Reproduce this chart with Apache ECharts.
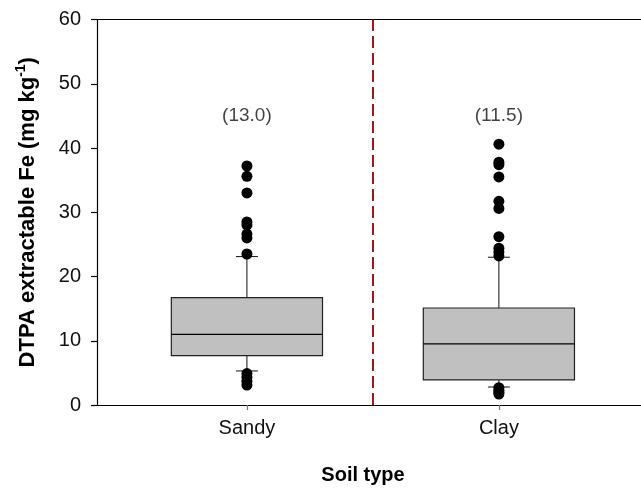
<!DOCTYPE html>
<html><head><meta charset="utf-8">
<script src="https://cdn.jsdelivr.net/npm/echarts@6/dist/echarts.min.js"></script>
<style>html,body{margin:0;padding:0;background:#fff}#c{width:641px;height:490px}</style>
</head><body><div id="c"></div>
<script>
const categories = ['Sandy', 'Clay'];
// [lower whisker, Q1, median, Q3, upper whisker]
const sandyBox = [5.3, 7.7, 11.0, 16.7, 23.1];
const clayBox = [2.8, 3.9, 9.5, 15.1, 23.0];
const sandyOutliers = [37.2, 35.6, 33.0, 28.5, 28.0, 26.6, 26.0, 23.5, 4.9, 4.3, 3.7, 3.1];
const clayOutliers = [40.6, 37.8, 37.4, 35.5, 31.7, 30.6, 26.2, 24.4, 23.8, 23.2, 2.7, 2.3, 2.0, 1.7];
const means = [13.0, 11.5];
const yTicks = [0, 10, 20, 30, 40, 50, 60];

const FONT = "'Liberation Sans', Arial, sans-serif";
const labelY = 45;
const boxes = [sandyBox, clayBox];
const boxData = boxes.map((b, i) => [i + 1].concat(b));
const outlierData = [];
sandyOutliers.forEach(v => outlierData.push([1, v]));
clayOutliers.forEach(v => outlierData.push([2, v]));

const X_MIN = 0.405, X_MAX = 2.564;

const chart = echarts.init(document.getElementById('c'), null, {renderer: 'canvas'});
chart.setOption({
  animation: false,
  backgroundColor: '#fff',
  textStyle: {fontFamily: FONT},
  grid: {left: 97, top: 19.5, bottom: 80, right: 0, containLabel: false},
  xAxis: [{
    type: 'value', min: X_MIN, max: X_MAX, position: 'bottom',
    splitLine: {show: false},
    axisLine: {show: true, lineStyle: {color: '#000', width: 1.2}},
    axisTick: {show: true, customValues: [1, 2], length: 5, lineStyle: {color: '#777', width: 1.2}},
    axisLabel: {show: true, customValues: [1, 2], margin: 13, fontSize: 20, color: '#111', fontFamily: FONT,
      formatter: v => categories[Math.round(v) - 1] || ''},
    name: 'Soil type', nameLocation: 'middle', nameGap: 60,
    nameTextStyle: {fontSize: 20, fontWeight: 'bold', color: '#000', fontFamily: FONT, padding: [0, 12, 0, 0]}
  }, {
    type: 'value', min: X_MIN, max: X_MAX, position: 'top',
    splitLine: {show: false}, axisTick: {show: false}, axisLabel: {show: false},
    axisLine: {show: true, lineStyle: {color: '#000', width: 1.2}}
  }],
  yAxis: {
    type: 'value', min: 0, max: 60, interval: 10,
    splitLine: {show: false},
    axisLine: {show: true, lineStyle: {color: '#000', width: 1.2}},
    axisTick: {show: true, length: 6, lineStyle: {color: '#000', width: 1.2}},
    axisLabel: {margin: 16, fontSize: 20, color: '#111', fontFamily: FONT,
      formatter: v => yTicks.indexOf(v) >= 0 ? String(v) : ''},
    name: '{b|DTPA extractable Fe (mg kg}{s|-1}{b|)}',
    nameLocation: 'middle', nameGap: 55, nameRotate: 90,
    nameTextStyle: {
      rich: {
        b: {fontSize: 22, fontWeight: 'bold', color: '#000', fontFamily: FONT, lineHeight: 28},
        s: {fontSize: 14, fontWeight: 'bold', color: '#000', fontFamily: FONT, verticalAlign: 'top', lineHeight: 28}
      }
    }
  },
  series: [{
    type: 'custom',
    xAxisIndex: 0,
    data: boxData,
    encode: {x: 0, y: [1, 2, 3, 4, 5]},
    renderItem: function (params, api) {
      const x = api.value(0);
      const cx = api.coord([x, api.value(3)])[0];
      const y = k => api.coord([x, api.value(k)])[1];
      const hw = api.size([0.6, 0])[0] / 2;
      const cw = api.size([0.087, 0])[0] / 2;
      const yLo = y(1), yQ1 = y(2), yMed = y(3), yQ3 = y(4), yHi = y(5);
      const ls = {stroke: '#111', lineWidth: 1};
      return {type: 'group', children: [
        {type: 'line', shape: {x1: cx, y1: yQ3, x2: cx, y2: yHi}, style: ls},
        {type: 'line', shape: {x1: cx, y1: yQ1, x2: cx, y2: yLo}, style: ls},
        {type: 'line', shape: {x1: cx - cw, y1: yHi, x2: cx + cw, y2: yHi}, style: ls},
        {type: 'line', shape: {x1: cx - cw, y1: yLo, x2: cx + cw, y2: yLo}, style: ls},
        {type: 'rect', shape: {x: cx - hw, y: yQ3, width: 2 * hw, height: yQ1 - yQ3},
          style: {fill: '#c0c0c0', stroke: '#222', lineWidth: 1.2}},
        {type: 'line', shape: {x1: cx - hw, y1: yMed, x2: cx + hw, y2: yMed}, style: {stroke: '#000', lineWidth: 1.2}}
      ]};
    },
    markLine: {
      silent: true, symbol: 'none', label: {show: false},
      lineStyle: {color: '#a3161c', type: [12, 5], width: 2},
      data: [{xAxis: 1.5}]
    },
    z: 2
  }, {
    type: 'scatter',
    data: outlierData,
    symbol: 'circle', symbolSize: 11,
    itemStyle: {color: '#000', opacity: 1},
    z: 3
  }, {
    type: 'scatter',
    data: means.map((m, i) => [i + 1, labelY, m]),
    encode: {x: 0, y: 1},
    symbolSize: 0,
    label: {show: true, position: 'inside', fontSize: 19, color: '#111', fontFamily: FONT,
      formatter: p => '(' + p.value[2].toFixed(1) + ')'},
    z: 4
  }]
});
</script></body></html>
